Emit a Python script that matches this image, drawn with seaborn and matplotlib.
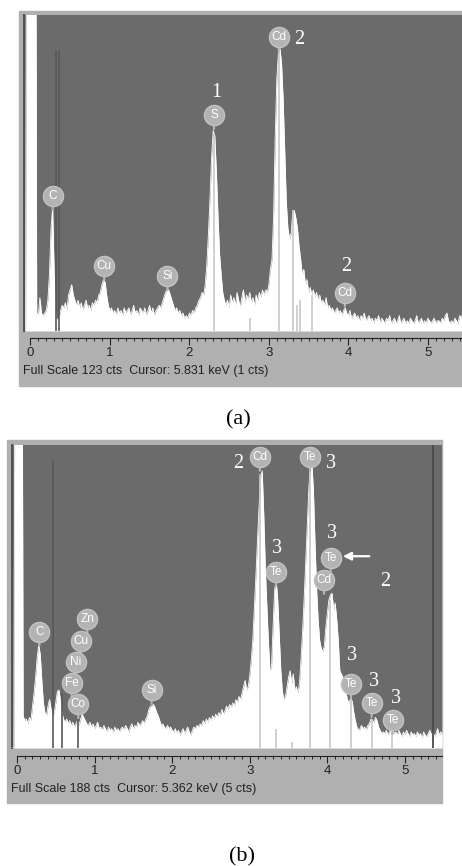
import matplotlib
matplotlib.use("Agg")
import matplotlib.pyplot as plt
from matplotlib.patches import Rectangle
from matplotlib.ticker import MultipleLocator
import numpy as np
import pandas as pd
import seaborn as sns

W, H = 462, 866
STEP = 0.02  # keV per channel

# ---------------- spectrum (a) ----------------
start_a = -0.06
counts_a = [
    0, 300, 300, 300, 300, 300, 300, 7, 6, 13,      # -0.06 .. 0.12
    7, 6, 7, 8, 12, 22, 40, 48, 22, 6,              # 0.14 .. 0.32
    4, 5, 8, 10, 9, 11, 8, 14, 16, 18,              # 0.34 .. 0.52
    14, 12, 10, 12, 9, 11, 8, 10, 12, 9,            # 0.54 .. 0.72
    10, 8, 11, 10, 12, 11, 14, 15, 18, 20,          # 0.74 .. 0.92
    19, 14, 10, 8, 9, 7, 8, 6, 9, 7,                # 0.94 .. 1.12
    8, 6, 9, 7, 8, 9, 6, 8, 10, 7,                  # 1.14 .. 1.32
    8, 6, 9, 8, 7, 9, 6, 8, 10, 7,                  # 1.34 .. 1.52
    9, 6, 8, 9, 10, 9, 11, 13, 15, 16,              # 1.54 .. 1.72
    16, 14, 12, 10, 8, 9, 7, 8, 6, 7,               # 1.74 .. 1.92
    5, 6, 5, 7, 6, 8, 7, 9, 10, 12,                 # 1.94 .. 2.12
    13, 15, 14, 18, 26, 38, 52, 68, 78, 76,         # 2.14 .. 2.32
    62, 45, 30, 22, 15, 12, 10, 12, 9, 14,          # 2.34 .. 2.52
    11, 13, 10, 15, 12, 9, 13, 16, 11, 14,          # 2.54 .. 2.72
    12, 15, 11, 13, 10, 14, 12, 15, 13, 16,         # 2.74 .. 2.92
    14, 16, 15, 18, 24, 28, 45, 75, 98, 108,        # 2.94 .. 3.12
    110, 104, 90, 70, 50, 40, 36, 38, 46, 47,       # 3.14 .. 3.32
    44, 40, 33, 28, 22, 24, 18, 20, 15, 17,         # 3.34 .. 3.52
    14, 16, 13, 15, 12, 14, 11, 12, 10, 13,         # 3.54 .. 3.72
    9, 10, 8, 9, 7, 8, 9, 7, 8, 6,                  # 3.74 .. 3.92
    8, 9, 7, 6, 8, 5, 6, 7, 5, 6,                   # 3.94 .. 4.12
    4, 6, 5, 7, 4, 5, 6, 4, 5, 3,                   # 4.14 .. 4.32
    5, 4, 6, 3, 5, 4, 3, 5, 4, 6,                   # 4.34 .. 4.52
    3, 4, 5, 3, 4, 6, 3, 4, 5, 3,                   # 4.54 .. 4.72
    4, 3, 5, 4, 3, 4, 6, 3, 4, 5,                   # 4.74 .. 4.92
    3, 4, 3, 5, 4, 3, 4, 5, 3, 4,                   # 4.94 .. 5.12
    4, 3, 5, 4, 6, 7, 4, 3, 4, 3,                   # 5.14 .. 5.32
    5, 4, 3, 6, 5, 7,                               # 5.34 .. 5.44
]
full_scale_a = 123
status_a = "Full Scale 123 cts  Cursor: 5.831 keV (1 cts)"
dark_lines_a = [(0.32, 109), (0.362, 109)]
marker_lines_a = [(2.31, 77), (3.13, 110), (3.31, 47), (3.36, 10), (3.39, 12),
                  (3.54, 14), (2.76, 5)]
labels_a = [("C", 0.28, 52.5), ("Cu", 0.93, 25.3), ("Si", 1.725, 21.5),
            ("S", 2.31, 84), ("Cd", 3.125, 114.5), ("Cd", 3.956, 14.9)]
numbers_a = [("1", 2.333, 93), ("2", 3.38, 113.6), ("2", 3.977, 25)]

# ---------------- spectrum (b) ----------------
start_b = -0.06
counts_b = [
    0, 0, 400, 400, 400, 400, 400, 20, 17, 18,      # -0.06 .. 0.12
    15, 19, 17, 26, 34, 44, 56, 64, 58, 42,         # 0.14 .. 0.32
    28, 22, 20, 26, 30, 24, 20, 22, 28, 35,         # 0.34 .. 0.52
    36, 30, 22, 18, 16, 18, 15, 17, 14, 16,         # 0.54 .. 0.72
    13, 15, 17, 14, 18, 21, 19, 17, 15, 14,         # 0.74 .. 0.92
    16, 13, 15, 12, 14, 16, 12, 13, 11, 14,         # 0.94 .. 1.12
    12, 10, 13, 11, 12, 9, 13, 11, 12, 10,          # 1.14 .. 1.32
    12, 13, 11, 14, 12, 10, 13, 15, 12, 14,         # 1.34 .. 1.52
    13, 16, 14, 15, 17, 15, 18, 20, 24, 26,         # 1.54 .. 1.72
    26, 27, 25, 22, 20, 17, 14, 15, 13, 12,         # 1.74 .. 1.92
    14, 12, 13, 11, 10, 12, 9, 11, 8, 10,           # 1.94 .. 2.12
    12, 9, 11, 13, 10, 8, 11, 13, 12, 14,           # 2.14 .. 2.32
    13, 15, 14, 17, 15, 18, 16, 19, 17, 20,         # 2.34 .. 2.52
    18, 21, 19, 22, 20, 24, 21, 23, 26, 24,         # 2.54 .. 2.72
    27, 25, 28, 26, 30, 28, 32, 30, 34, 38,         # 2.74 .. 2.92
    42, 36, 38, 45, 55, 68, 88, 108, 130, 150,      # 2.94 .. 3.12
    168, 172, 145, 112, 88, 66, 48, 50, 75, 98,     # 3.14 .. 3.32
    104, 92, 70, 48, 35, 30, 32, 38, 44, 48,        # 3.34 .. 3.52
    40, 46, 36, 38, 34, 40, 55, 72, 92, 115,        # 3.54 .. 3.72
    138, 160, 175, 177, 160, 128, 100, 80, 67, 62,  # 3.74 .. 3.92
    60, 63, 75, 84, 92, 95, 96, 86, 90, 80,         # 3.94 .. 4.12
    67, 48, 46, 44, 38, 34, 30, 28, 31, 29,         # 4.14 .. 4.32
    22, 17, 13, 11, 12, 14, 12, 13, 11, 14,         # 4.34 .. 4.52
    15, 18, 17, 16, 19, 17, 13, 11, 9, 10,          # 4.54 .. 4.72
    9, 11, 8, 10, 12, 11, 9, 10, 8, 11,             # 4.74 .. 4.92
    9, 7, 10, 8, 11, 9, 7, 10, 8, 9,                # 4.94 .. 5.12
    7, 10, 8, 9, 6, 10, 8, 7, 9, 11,                # 5.14 .. 5.32
    8, 10, 7, 9, 12, 8, 10, 9,                      # 5.34 .. 5.48
]
full_scale_b = 188
cursor_b = 5.362
status_b = "Full Scale 188 cts  Cursor: 5.362 keV (5 cts)"
dark_lines_b = [(0.47, 179), (0.575, 34), (0.79, 30)]
marker_lines_b = [(3.13, 170), (3.77, 177), (4.03, 92), (4.31, 31), (4.57, 18),
                  (4.83, 10), (3.34, 12), (3.55, 4)]
labels_b = [("C", 0.288, 72), ("Zn", 0.906, 79.8), ("Cu", 0.825, 66.4),
            ("Ni", 0.76, 53.6), ("Fe", 0.705, 40.5), ("Co", 0.79, 27.1),
            ("Si", 1.735, 36), ("Cd", 3.13, 180.7), ("Te", 3.776, 180.7),
            ("Te", 3.338, 109.4), ("Cd", 3.956, 104.2), ("Te", 4.042, 117.7),
            ("Te", 4.304, 39.5), ("Te", 4.57, 27.7), ("Te", 4.84, 17.4)]
numbers_b = [("2", 2.852, 176.6), ("3", 4.046, 176.6), ("3", 3.346, 123.9),
             ("3", 4.063, 133.2), ("2", 4.75, 103.2), ("3", 4.32, 57.7),
             ("3", 4.60, 41.1), ("3", 4.89, 30.8)]
arrow_b = ((4.54, 119), (4.20, 119))

DARK = "#6b6b6b"
FRAME = "#b0b0b0"
BADGE = "#b3b3b3"


def px_box(x0, y0, x1, y1):
    return [x0 / W, 1 - y1 / H, (x1 - x0) / W, (y1 - y0) / H]


def draw_panel(fig, frame, plot, xlim, start, counts, full, ruler_gap,
               dark_lines, marker_lines, labels, numbers, status, status_xy,
               cursor=None, arrow=None):
    fig.add_artist(Rectangle(px_box(*frame)[:2], *px_box(*frame)[2:],
                             transform=fig.transFigure, color=FRAME, zorder=0))
    ax = fig.add_axes(px_box(*plot))
    ax.set_facecolor(DARK)

    df = pd.DataFrame({"keV": start + STEP * np.arange(len(counts)), "cts": counts})
    ax.fill_between(df["keV"], df["cts"], color="white", lw=0, zorder=2)
    sns.lineplot(data=df, x="keV", y="cts", ax=ax, color="white", lw=0.6, zorder=3)

    for e, h in marker_lines:
        ax.vlines(e, 0, h, color="#c8c8c8", lw=1.2, zorder=3.5)
    for e, h in dark_lines:
        ax.vlines(e, 0, h, color="#585858", lw=1.2, zorder=4)
    if cursor is not None:
        ax.axvline(cursor, color="#4a4a4a", lw=1.3, zorder=4)

    for el, e, c in labels:
        ax.annotate("", xy=(e, c), xytext=(0, -10), textcoords="offset points",
                    arrowprops=dict(arrowstyle="-", color=BADGE, lw=1.6,
                                    shrinkA=0, shrinkB=0), zorder=5)
        ax.plot([e], [c], "o", ms=14.5, mfc=BADGE, mec="#c2c2c2", mew=1.0, zorder=6)
        ax.text(e, c, el, fontsize=8.5, color="white", ha="center", va="center",
                family="Liberation Sans", zorder=7)
    for num, e, c in numbers:
        ax.text(e, c, num, fontsize=14.5, color="white", ha="center", va="center",
                family="Liberation Serif", zorder=7)
    if arrow is not None:
        ax.annotate("", xy=arrow[1], xytext=arrow[0],
                    arrowprops=dict(arrowstyle="-|>", color="white", lw=1.6,
                                    mutation_scale=12, shrinkA=0, shrinkB=0),
                    zorder=7)

    ax.set_xlim(*xlim)
    ax.set_ylim(0, full)
    ax.set_xlabel("")
    ax.set_ylabel("")
    ax.set_yticks([])
    for s in ("top", "right"):
        ax.spines[s].set_visible(False)
    ax.spines["left"].set_color("#505050")
    ax.spines["left"].set_linewidth(1.4)
    ax.spines["bottom"].set_position(("outward", ruler_gap))
    ax.spines["bottom"].set_bounds(0, xlim[1])
    ax.spines["bottom"].set_color("#222222")
    ax.spines["bottom"].set_linewidth(0.8)
    ax.set_xticks(range(6))
    ax.xaxis.set_minor_locator(MultipleLocator(0.1))
    ax.tick_params(axis="x", which="major", direction="out", length=5, width=0.8,
                   color="#222222", labelsize=9.5, pad=1.5, labelcolor="#222222")
    ax.tick_params(axis="x", which="minor", direction="out", length=2.5,
                   width=0.7, color="#222222")
    for t in ax.get_xticklabels():
        t.set_family("Liberation Sans")

    fig.text(status_xy[0] / W, 1 - status_xy[1] / H, status, fontsize=9,
             color="#222222", ha="left", va="center", family="Liberation Sans")
    return ax


fig = plt.figure(figsize=(W / 100, H / 100), dpi=100)
fig.patch.set_facecolor("white")

draw_panel(fig, (19, 11, 462, 386), (24, 15, 462, 331), (-0.08, 5.43),
           start_a, counts_a, full_scale_a, 5, dark_lines_a, marker_lines_a,
           labels_a, numbers_a, status_a, (23, 371))
draw_panel(fig, (7, 440, 442, 803), (12, 445, 442, 748), (-0.064, 5.477),
           start_b, counts_b, full_scale_b, 5.8, dark_lines_b, marker_lines_b,
           labels_b, numbers_b, status_b, (11, 789), cursor=cursor_b,
           arrow=arrow_b)

fig.text(238 / W, 1 - 420 / H, "(a)", fontsize=16, family="Liberation Serif",
         ha="center", va="center")
fig.text(242 / W, 1 - 857 / H, "(b)", fontsize=16, family="Liberation Serif",
         ha="center", va="center")

fig.savefig("out.png", dpi=100, facecolor="white")
